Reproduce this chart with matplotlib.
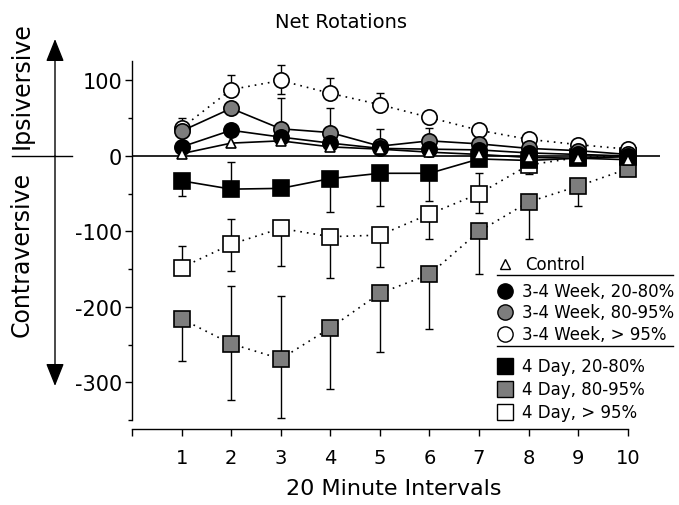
import numpy as np
import matplotlib
matplotlib.use("Agg")
import matplotlib.pyplot as plt
from matplotlib.lines import Line2D
from matplotlib.ticker import FixedLocator

plt.rcParams['font.family'] = ['DejaVu Sans']
plt.rcParams['axes.unicode_minus'] = False

# ---------------- data ----------------
intervals = [1, 2, 3, 4, 5, 6, 7, 8, 9, 10]
x_tick_labels = ['', '1', '2', '3', '4', '5', '6', '7', '8', '9', '10']
y_major = [-300, -200, -100, 0, 100]
y_minor = [-350, -250, -150, -50, 50]

control = [3, 17, 20, 12, 9, 5, 2, -2, -3, -5]
wk_20_80 = [12, 34, 25, 17, 10, 9, 8, 4, 2, 0]
wk_80_95 = [33, 63, 36, 31, 13, 20, 16, 10, 7, 2]
wk_95 = [37, 88, 100, 83, 68, 51, 34, 22, 15, 9]
day_20_80 = [-33, -44, -43, -30, -23, -23, -4, -6, -3, -1]
day_80_95 = [-216, -249, -269, -228, -182, -157, -100, -61, -40, -17]
day_95 = [-148, -117, -96, -107, -105, -77, -50, -12, -2, 0]

# error bars (lower, upper); 0 = not shown
wk_95_lo = [0, 0, 18, 0, 0, 0, 0, 0, 0, 0]
wk_95_hi = [13, 19, 20, 20, 15, 0, 0, 0, 0, 0]
wk_80_95_lo = [0, 0, 0, 0, 0, 0, 0, 0, 0, 0]
wk_80_95_hi = [0, 0, 41, 33, 23, 17, 0, 0, 0, 0]
day_20_80_lo = [20, 0, 0, 44, 43, 37, 0, 0, 0, 0]
day_20_80_hi = [0, 36, 0, 0, 0, 0, 0, 0, 0, 0]
day_95_lo = [0, 36, 50, 55, 42, 33, 25, 12, 0, 0]
day_95_hi = [29, 33, 0, 0, 0, 0, 27, 0, 0, 0]
day_80_95_lo = [56, 74, 78, 81, 78, 72, 56, 49, 27, 0]
day_80_95_hi = [0, 77, 83, 0, 0, 0, 0, 0, 0, 0]

labels = ['Control', '3-4 Week, 20-80%', '3-4 Week, 80-95%', '3-4 Week, > 95%',
          '4 Day, 20-80%', '4 Day, 80-95%', '4 Day, > 95%']

GRAY = '#7d7d7d'
W, H = 679, 506

def fx(px):
    return px / W

def fy(py):
    return 1 - py / H

fig = plt.figure(figsize=(W / 100, H / 100), dpi=100)
ax = fig.add_axes([fx(132), fy(421), fx(660) - fx(132), fy(40) - fy(421)])
ax.set_xlim(0, 10.65)
ax.set_ylim(-350, 155)

ax.axhline(0, color='black', lw=1.2, zorder=1)

x = np.array(intervals, dtype=float)
dotted = (0, (1, 3))

series = [
    # y, lo, hi, marker, face, linestyle, zorder, size
    (day_80_95, day_80_95_lo, day_80_95_hi, 's', GRAY, dotted, 3, 11.5),
    (day_95, day_95_lo, day_95_hi, 's', 'white', dotted, 4, 11.5),
    (day_20_80, day_20_80_lo, day_20_80_hi, 's', 'black', '-', 5, 11.5),
    (wk_95, wk_95_lo, wk_95_hi, 'o', 'white', dotted, 6, 11),
    (wk_80_95, wk_80_95_lo, wk_80_95_hi, 'o', GRAY, '-', 7, 11),
    (wk_20_80, None, None, 'o', 'black', '-', 8, 11),
    (control, None, None, '^', 'white', '-', 9, 7.5),
]

for y, lo, hi, mk, fc, ls, z, ms in series:
    y = np.array(y, dtype=float)
    if lo is not None:
        lo = np.array(lo, dtype=float)
        hi = np.array(hi, dtype=float)
        m = (lo > 0) | (hi > 0)
        ax.errorbar(x[m], y[m], yerr=[lo[m], hi[m]], fmt='none', ecolor='black',
                    elinewidth=1.0, capsize=3, capthick=1.0, zorder=z - 0.5,
                    clip_on=False)
    ax.plot(x, y, linestyle=ls, color='black', lw=1.2, zorder=z - 0.3, clip_on=False)
    ax.plot(x, y, linestyle='none', marker=mk, ms=ms, mfc=fc, mec='black',
            mew=1.2, zorder=z, clip_on=False)

# axes styling
for s in ['top', 'right']:
    ax.spines[s].set_visible(False)
ax.spines['left'].set_bounds(-350, 126)
ax.spines['bottom'].set_bounds(0, 10)
ax.spines['bottom'].set_position(('outward', 6.5))
ax.spines['left'].set_linewidth(1.0)
ax.spines['bottom'].set_linewidth(1.0)

ax.set_yticks(y_major)
ax.set_yticklabels([str(v) for v in y_major])
ax.yaxis.set_minor_locator(FixedLocator(y_minor))
ax.tick_params(axis='y', which='major', length=5, width=1, pad=2, labelsize=15)
ax.tick_params(axis='y', which='minor', length=3, width=1)
ax.set_xticks(range(0, 11))
ax.set_xticklabels(x_tick_labels)
ax.tick_params(axis='x', which='major', length=5, width=1, pad=9, labelsize=14)

# titles
fig.text(fx(341), fy(22), 'Net Rotations', ha='center', va='center', fontsize=14)
fig.text(fx(394), fy(489), '20 Minute Intervals', ha='center', va='center', fontsize=16)

# left direction labels and arrows
fig.text(fx(22), fy(86), 'Ipsiversive', rotation=90, ha='center', va='center', fontsize=17)
fig.text(fx(22), fy(254), 'Contraversive', rotation=90, ha='center', va='center', fontsize=17)
fig.add_artist(Line2D([fx(12), fx(72)], [fy(157), fy(157)], transform=fig.transFigure,
                      color='black', lw=1.0))
for tip in (40, 387):
    ax.annotate('', xy=(fx(55), fy(tip)), xytext=(fx(55), fy(157)),
                xycoords='figure fraction', textcoords='figure fraction',
                arrowprops=dict(arrowstyle='-|>,head_length=0.7,head_width=0.28',
                                mutation_scale=20, color='black', lw=1.0,
                                shrinkA=0, shrinkB=0))

# legend (manual)
leg_rows = [
    (265, '^', 'white', 7.5, 525),
    (292, 'o', 'black', 11, 522),
    (313, 'o', GRAY, 11, 522),
    (335, 'o', 'white', 11, 522),
    (367, 's', 'black', 11, 522),
    (390, 's', GRAY, 11, 522),
    (413, 's', 'white', 11, 522),
]
for (py, mk, fc, ms, tx), lab in zip(leg_rows, labels):
    fig.add_artist(Line2D([fx(505)], [fy(py)], transform=fig.transFigure, marker=mk,
                          ms=ms, mfc=fc, mec='black', mew=1.0, linestyle='none'))
    fig.text(fx(tx), fy(py), lab, ha='left', va='center', fontsize=12)
for py in (276, 347):
    fig.add_artist(Line2D([fx(497), fx(673)], [fy(py), fy(py)], transform=fig.transFigure,
                          color='black', lw=1.0))

fig.savefig('out.png', dpi=100)
